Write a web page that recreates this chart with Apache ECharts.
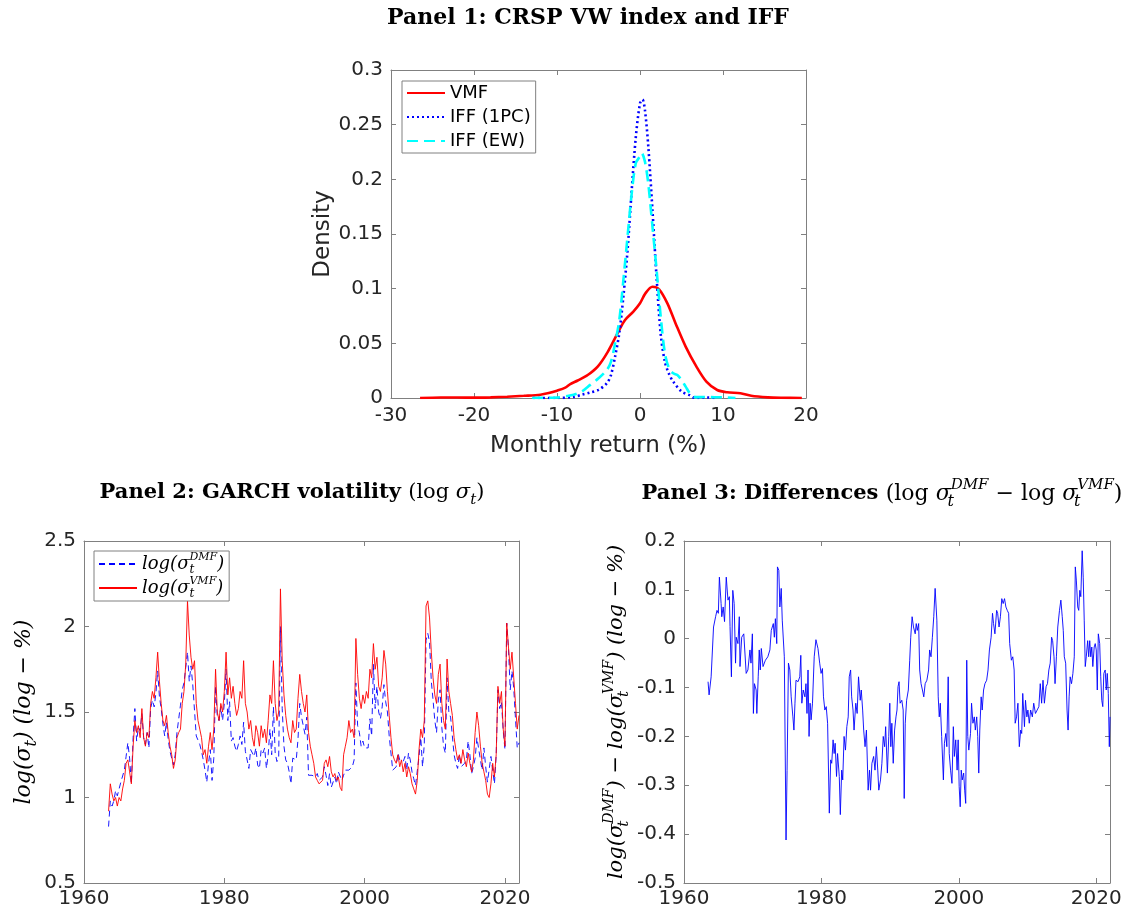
<!DOCTYPE html>
<html><head><meta charset="utf-8">
<script src="https://cdn.jsdelivr.net/npm/echarts@6/dist/echarts.min.js"></script>
<style>html,body{margin:0;padding:0;background:#fff}#c{width:1127px;height:916px}</style>
</head><body><div id="c"></div>
<script>
// ---------- Panel 1: kernel densities (x = monthly return %, y = density) ----------
const vmfDensity = [[-26.5,0],[-24,0.0005],[-22,0.0004],[-20,0.0003],[-18,0.0006],[-16,0.0012],[-14,0.002],[-12,0.003],[-11,0.0045],[-10,0.0067],[-9,0.0095],[-8.4,0.0128],[-7.5,0.016],[-6.3,0.021],[-5.1,0.0287],[-3.9,0.042],[-2.6,0.0607],[-1.8,0.0713],[-0.8,0.079],[0,0.0866],[0.65,0.0957],[1.5,0.1018],[2.3,0.0994],[3.3,0.0866],[4.3,0.068],[5.5,0.047],[6.8,0.0287],[8,0.015],[9.3,0.0073],[10.5,0.0052],[12.1,0.0043],[13.4,0.002],[15.4,0.0006],[17,0.0002],[19.5,0]];
const iff1pcDensity = [[-12.9,0],[-10,0],[-8,0.001],[-7,0.003],[-6,0.005],[-5,0.0075],[-4,0.0134],[-3.5,0.021],[-3,0.038],[-2.5,0.059],[-2,0.093],[-1.5,0.135],[-1,0.19],[-0.5,0.239],[0,0.2695],[0.3,0.273],[0.6,0.263],[1,0.23],[1.5,0.172],[2,0.11],[2.5,0.058],[3,0.033],[3.5,0.022],[4,0.015],[5,0.006],[6,0.0025],[6.5,0.0003],[7,0],[8,0.0005],[9,0]];
const iffEwDensity = [[-13,0],[-10,0.0005],[-8,0.003],[-7,0.006],[-6,0.012],[-5,0.018],[-4,0.0256],[-3.5,0.033],[-3,0.05],[-2.5,0.071],[-2,0.108],[-1.5,0.1476],[-1,0.187],[-0.5,0.215],[0,0.221],[0.2,0.224],[0.6,0.216],[1,0.196],[1.5,0.157],[2,0.117],[2.5,0.074],[3,0.041],[3.5,0.027],[4,0.0226],[4.5,0.021],[5,0.0165],[5.5,0.0104],[6,0.0043],[6.5,0.0012],[7,0.0008],[8,0.001],[9,0.0007],[10,0.0007],[11.5,0]];

// ---------- Panel 2: GARCH log volatility (year, value) ----------
const vmfVol = [[1963.5,0.92],[1963.75,1.08],[1964,1.02],[1964.25,0.98],[1964.5,1.0],[1964.75,0.95],[1965,1.0],[1965.25,0.98],[1965.5,1.05],[1965.75,1.1],
[1966,1.2],[1966.25,1.22],[1966.5,1.15],[1966.75,1.08],[1967,1.3],[1967.25,1.45],[1967.5,1.38],[1967.75,1.42],[1968,1.35],[1968.25,1.52],
[1968.5,1.35],[1968.75,1.3],[1969,1.38],[1969.25,1.35],[1969.5,1.55],[1969.75,1.62],[1970,1.58],[1970.25,1.7],[1970.5,1.85],[1970.75,1.68],
[1971,1.55],[1971.25,1.45],[1971.5,1.42],[1971.75,1.48],[1972,1.38],[1972.25,1.3],[1972.5,1.25],[1972.75,1.17],[1973,1.22],[1973.25,1.35],
[1973.5,1.38],[1973.75,1.4],[1974,1.55],[1974.25,1.62],[1974.5,1.78],[1974.75,2.15],[1975,1.95],[1975.25,1.82],[1975.5,1.75],[1975.75,1.8],
[1976,1.55],[1976.25,1.45],[1976.5,1.4],[1976.75,1.35],[1977,1.25],[1977.25,1.28],[1977.5,1.2],[1977.75,1.3],[1978,1.38],[1978.25,1.28],
[1978.5,1.4],[1978.75,1.75],[1979,1.5],[1979.25,1.45],[1979.5,1.55],[1979.75,1.5],[1980,1.62],[1980.25,1.85],[1980.5,1.6],[1980.75,1.7],
[1981,1.58],[1981.25,1.65],[1981.5,1.55],[1981.75,1.48],[1982,1.52],[1982.25,1.62],[1982.5,1.58],[1982.75,1.8],[1983,1.55],[1983.25,1.5],
[1983.5,1.4],[1983.75,1.45],[1984,1.35],[1984.25,1.3],[1984.5,1.42],[1984.75,1.38],[1985,1.3],[1985.25,1.42],[1985.5,1.35],[1985.75,1.4],
[1986,1.32],[1986.25,1.45],[1986.5,1.6],[1986.75,1.55],[1987,1.8],[1987.25,1.55],[1987.5,1.45],[1987.75,1.5],[1988,2.22],[1988.25,1.8],
[1988.5,1.6],[1988.75,1.48],[1989,1.4],[1989.25,1.35],[1989.5,1.32],[1989.75,1.45],[1990,1.38],[1990.25,1.4],[1990.5,1.58],[1990.75,1.72],
[1991,1.62],[1991.25,1.55],[1991.5,1.5],[1991.75,1.6],[1992,1.38],[1992.25,1.3],[1992.5,1.25],[1992.75,1.2],[1993,1.12],[1993.25,1.1],
[1993.5,1.08],[1993.75,1.07],[1994,1.1],[1994.25,1.2],[1994.5,1.22],[1994.75,1.18],[1995,1.24],[1995.25,1.15],[1995.5,1.12],[1995.75,1.14],
[1996,1.1],[1996.25,1.12],[1996.5,1.06],[1996.75,1.04],[1997,1.25],[1997.25,1.3],[1997.5,1.35],[1997.75,1.45],[1998,1.38],[1998.25,1.4],
[1998.5,1.35],[1998.75,1.93],[1999,1.72],[1999.25,1.58],[1999.5,1.52],[1999.75,1.6],[2000,1.55],[2000.25,1.62],[2000.5,1.58],[2000.75,1.75],
[2001,1.7],[2001.25,1.9],[2001.5,1.75],[2001.75,1.82],[2002,1.65],[2002.25,1.62],[2002.5,1.7],[2002.75,1.86],[2003,1.78],[2003.25,1.62],
[2003.5,1.48],[2003.75,1.35],[2004,1.25],[2004.25,1.22],[2004.5,1.2],[2004.75,1.25],[2005,1.18],[2005.25,1.22],[2005.5,1.15],[2005.75,1.2],
[2006,1.12],[2006.25,1.18],[2006.5,1.14],[2006.75,1.08],[2007,1.05],[2007.25,1.02],[2007.5,1.1],[2007.75,1.28],[2008,1.4],[2008.25,1.35],
[2008.5,1.45],[2008.75,2.12],[2009,2.15],[2009.25,2.05],[2009.5,1.85],[2009.75,1.7],[2010,1.6],[2010.25,1.55],[2010.5,1.72],[2010.75,1.78],
[2011,1.55],[2011.25,1.45],[2011.5,1.4],[2011.75,1.81],[2012,1.62],[2012.25,1.55],[2012.5,1.48],[2012.75,1.35],[2013,1.28],[2013.25,1.22],
[2013.5,1.25],[2013.75,1.2],[2014,1.28],[2014.25,1.22],[2014.5,1.18],[2014.75,1.26],[2015,1.2],[2015.25,1.15],[2015.5,1.22],[2015.75,1.38],
[2016,1.5],[2016.25,1.42],[2016.5,1.3],[2016.75,1.2],[2017,1.15],[2017.25,1.1],[2017.5,1.02],[2017.75,1.0],[2018,1.08],[2018.25,1.2],
[2018.5,1.12],[2018.75,1.25],[2019,1.65],[2019.25,1.55],[2019.5,1.62],[2019.75,1.4],[2020,1.3],[2020.25,2.02],[2020.5,1.88],[2020.75,1.75],
[2021,1.85],[2021.25,1.7],[2021.5,1.55],[2021.75,1.4],[2022,1.48]];

const dmfVol = [[1963.5,0.83],[1963.75,0.98],[1964,0.95],[1964.25,0.98],[1964.5,1.04],[1964.75,1.01],[1965,1.05],[1965.25,1.09],[1965.5,1.1],[1965.75,1.16],
[1966,1.24],[1966.25,1.32],[1966.5,1.23],[1966.75,1.08],[1967,1.35],[1967.25,1.52],[1967.5,1.33],[1967.75,1.41],[1968,1.39],[1968.25,1.49],
[1968.5,1.35],[1968.75,1.31],[1969,1.38],[1969.25,1.29],[1969.5,1.52],[1969.75,1.57],[1970,1.53],[1970.25,1.61],[1970.5,1.74],[1970.75,1.59],
[1971,1.52],[1971.25,1.43],[1971.5,1.36],[1971.75,1.44],[1972,1.34],[1972.25,1.27],[1972.5,1.23],[1972.75,1.19],[1973,1.25],[1973.25,1.38],
[1973.5,1.37],[1973.75,1.54],[1974,1.63],[1974.25,1.67],[1974.5,1.76],[1974.75,1.85],[1975,1.68],[1975.25,1.77],[1975.5,1.66],[1975.75,1.65],
[1976,1.36],[1976.25,1.35],[1976.5,1.31],[1976.75,1.27],[1977,1.22],[1977.25,1.16],[1977.5,1.09],[1977.75,1.2],[1978,1.28],[1978.25,1.1],
[1978.5,1.23],[1978.75,1.65],[1979,1.47],[1979.25,1.45],[1979.5,1.53],[1979.75,1.45],[1980,1.55],[1980.25,1.75],[1980.5,1.45],[1980.75,1.56],
[1981,1.33],[1981.25,1.35],[1981.5,1.3],[1981.75,1.27],[1982,1.31],[1982.25,1.36],[1982.5,1.31],[1982.75,1.44],[1983,1.27],[1983.25,1.28],
[1983.5,1.17],[1983.75,1.28],[1984,1.26],[1984.25,1.24],[1984.5,1.29],[1984.75,1.19],[1985,1.17],[1985.25,1.28],[1985.5,1.26],[1985.75,1.29],
[1986,1.17],[1986.25,1.25],[1986.5,1.4],[1986.75,1.25],[1987,1.53],[1987.25,1.26],[1987.5,1.21],[1987.75,1.24],[1988,2.0],[1988.25,1.52],
[1988.5,1.3],[1988.75,1.22],[1989,1.2],[1989.25,1.15],[1989.5,1.08],[1989.75,1.23],[1990,1.22],[1990.25,1.22],[1990.5,1.34],[1990.75,1.55],
[1991,1.47],[1991.25,1.46],[1991.5,1.37],[1991.75,1.47],[1992,1.13],[1992.25,1.14],[1992.5,1.13],[1992.75,1.13],[1993,1.12],[1993.25,1.14],
[1993.5,1.1],[1993.75,1.1],[1994,1.12],[1994.25,1.18],[1994.5,1.13],[1994.75,1.07],[1995,1.14],[1995.25,1.06],[1995.5,1.05],[1995.75,1.12],
[1996,1.08],[1996.25,1.15],[1996.5,1.15],[1996.75,1.1],[1997,1.13],[1997.25,1.16],[1997.5,1.15],[1997.75,1.16],[1998,1.17],[1998.25,1.18],
[1998.5,1.22],[1998.75,1.67],[1999,1.42],[1999.25,1.38],[1999.5,1.3],[1999.75,1.33],[2000,1.29],[2000.25,1.3],[2000.5,1.29],[2000.75,1.46],
[2001,1.36],[2001.25,1.78],[2001.5,1.52],[2001.75,1.65],[2002,1.5],[2002.25,1.46],[2002.5,1.53],[2002.75,1.66],[2003,1.56],[2003.25,1.5],
[2003.5,1.36],[2003.75,1.26],[2004,1.16],[2004.25,1.16],[2004.5,1.18],[2004.75,1.26],[2005,1.22],[2005.25,1.23],[2005.5,1.21],[2005.75,1.24],
[2006,1.16],[2006.25,1.26],[2006.5,1.22],[2006.75,1.15],[2007,1.11],[2007.25,1.07],[2007.5,1.08],[2007.75,1.24],[2008,1.35],[2008.25,1.18],
[2008.5,1.31],[2008.75,1.92],[2009,1.96],[2009.25,1.91],[2009.5,1.68],[2009.75,1.57],[2010,1.45],[2010.25,1.38],[2010.5,1.57],[2010.75,1.63],
[2011,1.41],[2011.25,1.3],[2011.5,1.26],[2011.75,1.7],[2012,1.5],[2012.25,1.47],[2012.5,1.36],[2012.75,1.25],[2013,1.2],[2013.25,1.17],
[2013.5,1.25],[2013.75,1.18],[2014,1.19],[2014.25,1.2],[2014.5,1.22],[2014.75,1.33],[2015,1.25],[2015.25,1.14],[2015.5,1.18],[2015.75,1.23],
[2016,1.35],[2016.25,1.34],[2016.5,1.22],[2016.75,1.16],[2017,1.29],[2017.25,1.18],[2017.5,1.09],[2017.75,1.09],[2018,1.24],[2018.25,1.24],
[2018.5,1.08],[2018.75,1.25],[2019,1.63],[2019.25,1.52],[2019.5,1.56],[2019.75,1.39],[2020,1.28],[2020.25,2.02],[2020.5,1.87],[2020.75,1.63],
[2021,1.74],[2021.25,1.64],[2021.5,1.46],[2021.75,1.29],[2022,1.32]];

// ---------- Panel 3: differences log sigma DMF - log sigma VMF (year, value) ----------
const diffSeries = [[1963.5,-0.088],[1963.65,-0.115],[1963.95,-0.078],[1964.3,0.024],[1964.6,0.045],[1964.8,0.058],[1965.0,0.052],[1965.15,0.126],[1965.4,0.072],[1965.5,0.045],
[1965.7,0.065],[1965.9,0.035],[1966.15,0.126],[1966.4,0.079],[1966.6,0.086],[1966.7,0.025],[1966.9,-0.078],[1967.1,0.099],[1967.3,0.072],[1967.5,-0.05],
[1967.6,0.003],[1967.85,-0.01],[1968.05,0.045],[1968.15,-0.057],[1968.4,0.003],[1968.7,0.01],[1968.9,0.014],[1969.05,-0.071],[1969.3,-0.064],[1969.6,-0.023],
[1969.75,-0.05],[1969.95,0.01],[1970.1,-0.153],[1970.25,-0.092],[1970.5,-0.105],[1970.6,-0.153],[1970.8,-0.078],[1970.95,-0.023],[1971.1,-0.064],[1971.25,-0.02],
[1971.5,-0.057],[1971.85,-0.044],[1972.2,-0.037],[1972.5,-0.023],[1972.7,0.017],[1973.0,0.031],[1973.15,0.003],[1973.3,0.041],[1973.5,-0.01],[1973.6,0.147],
[1973.8,0.14],[1973.95,0.065],[1974.15,0.103],[1974.3,0.038],[1974.6,-0.037],[1974.85,-0.412],[1975.0,-0.27],[1975.2,-0.05],[1975.4,-0.064],[1975.6,-0.119],
[1975.85,-0.16],[1976.0,-0.187],[1976.15,-0.132],[1976.3,-0.085],[1976.6,-0.088],[1976.85,-0.078],[1977.0,-0.034],[1977.15,-0.132],[1977.35,-0.105],[1977.6,-0.119],
[1977.75,-0.092],[1977.9,-0.153],[1978.05,-0.064],[1978.2,-0.2],[1978.35,-0.132],[1978.5,-0.166],[1978.7,-0.132],[1978.95,-0.037],[1979.2,-0.002],[1979.5,-0.02],
[1979.75,-0.05],[1979.95,-0.071],[1980.15,-0.061],[1980.3,-0.119],[1980.5,-0.146],[1980.7,-0.139],[1980.9,-0.173],[1981.15,-0.357],[1981.35,-0.248],[1981.5,-0.255],
[1981.7,-0.207],[1981.85,-0.235],[1982.0,-0.214],[1982.2,-0.282],[1982.35,-0.235],[1982.6,-0.282],[1982.75,-0.36],[1982.95,-0.269],[1983.1,-0.289],[1983.3,-0.2],
[1983.5,-0.228],[1983.7,-0.18],[1983.9,-0.16],[1984.05,-0.078],[1984.25,-0.064],[1984.4,-0.119],[1984.6,-0.146],[1984.75,-0.187],[1985.0,-0.132],[1985.2,-0.153],
[1985.4,-0.078],[1985.65,-0.126],[1985.8,-0.105],[1986.0,-0.146],[1986.15,-0.187],[1986.35,-0.221],[1986.55,-0.187],[1986.8,-0.31],[1987.0,-0.269],[1987.15,-0.31],
[1987.35,-0.255],[1987.6,-0.241],[1987.8,-0.269],[1988.0,-0.221],[1988.2,-0.269],[1988.35,-0.31],[1988.6,-0.289],[1988.8,-0.255],[1989.0,-0.2],[1989.2,-0.221],
[1989.35,-0.18],[1989.6,-0.275],[1989.8,-0.2],[1989.95,-0.132],[1990.1,-0.221],[1990.25,-0.173],[1990.45,-0.255],[1990.65,-0.187],[1990.85,-0.16],[1991.0,-0.146],
[1991.15,-0.098],[1991.3,-0.088],[1991.45,-0.132],[1991.7,-0.126],[1991.9,-0.146],[1992.05,-0.327],[1992.2,-0.173],[1992.4,-0.126],[1992.65,-0.105],[1992.85,-0.044],
[1993.0,0.003],[1993.2,0.045],[1993.4,0.024],[1993.65,0.01],[1993.8,0.031],[1993.95,0.017],[1994.15,0.031],[1994.3,-0.064],[1994.5,-0.092],[1994.7,-0.105],
[1994.9,-0.119],[1995.1,-0.092],[1995.35,-0.085],[1995.6,-0.064],[1995.75,-0.023],[1995.95,-0.037],[1996.15,0.003],[1996.35,0.045],[1996.55,0.103],[1996.8,0.038],
[1997.0,-0.119],[1997.15,-0.16],[1997.3,-0.132],[1997.5,-0.2],[1997.75,-0.289],[1997.9,-0.214],[1998.1,-0.194],[1998.25,-0.221],[1998.45,-0.078],[1998.6,-0.235],
[1998.8,-0.269],[1999.0,-0.296],[1999.2,-0.18],[1999.35,-0.241],[1999.55,-0.207],[1999.75,-0.269],[1999.9,-0.207],[2000.05,-0.303],[2000.2,-0.344],[2000.35,-0.269],
[2000.5,-0.289],[2000.7,-0.275],[2000.85,-0.31],[2001.0,-0.337],[2001.15,-0.044],[2001.3,-0.2],[2001.45,-0.228],[2001.7,-0.194],[2001.85,-0.132],[2002.05,-0.173],
[2002.25,-0.16],[2002.4,-0.187],[2002.6,-0.16],[2002.75,-0.2],[2002.9,-0.275],[2003.05,-0.187],[2003.25,-0.119],[2003.4,-0.146],[2003.6,-0.105],[2003.8,-0.092],
[2004.05,-0.085],[2004.25,-0.064],[2004.45,-0.023],[2004.7,0.003],[2004.9,0.052],[2005.05,0.031],[2005.25,0.01],[2005.5,0.058],[2005.65,0.052],[2005.85,0.024],
[2006.05,0.045],[2006.25,0.082],[2006.45,0.072],[2006.65,0.082],[2006.85,0.065],[2007.05,0.058],[2007.25,0.052],[2007.4,-0.01],[2007.65,-0.044],[2007.85,-0.037],
[2008.05,-0.064],[2008.2,-0.173],[2008.4,-0.16],[2008.6,-0.132],[2008.8,-0.221],[2009.0,-0.187],[2009.15,-0.194],[2009.3,-0.112],[2009.55,-0.18],[2009.7,-0.126],
[2009.9,-0.16],[2010.05,-0.146],[2010.25,-0.173],[2010.45,-0.146],[2010.7,-0.16],[2010.9,-0.132],[2011.15,-0.153],[2011.4,-0.146],[2011.65,-0.139],[2011.85,-0.092],
[2012.05,-0.132],[2012.25,-0.085],[2012.45,-0.132],[2012.7,-0.098],[2012.9,-0.092],[2013.1,-0.064],[2013.3,-0.05],[2013.5,0.003],[2013.65,-0.004],[2013.85,-0.037],
[2014.0,-0.092],[2014.2,-0.037],[2014.4,0.024],[2014.65,0.058],[2014.85,0.079],[2015.05,0.045],[2015.2,0.017],[2015.35,-0.037],[2015.55,-0.05],[2015.75,-0.146],
[2015.9,-0.187],[2016.05,-0.119],[2016.2,-0.078],[2016.4,-0.092],[2016.6,-0.071],[2016.8,-0.037],[2016.95,0.147],[2017.1,0.12],[2017.3,0.065],[2017.45,0.058],
[2017.6,0.099],[2017.75,0.086],[2017.95,0.18],[2018.1,0.126],[2018.25,0.038],[2018.4,-0.057],[2018.55,-0.037],[2018.75,-0.004],[2018.9,-0.037],[2019.05,-0.004],
[2019.2,-0.037],[2019.35,-0.017],[2019.5,-0.057],[2019.7,-0.017],[2019.85,-0.01],[2020.0,-0.023],[2020.15,-0.105],[2020.3,0.01],[2020.5,-0.01],[2020.65,-0.078],
[2020.8,-0.126],[2020.95,-0.139],[2021.1,-0.071],[2021.3,-0.064],[2021.45,-0.105],[2021.6,-0.071],[2021.75,-0.112],[2021.9,-0.221],[2022.0,-0.16]];

const densityLegend = ['VMF', 'IFF (1PC)', 'IFF (EW)'];
const volLegend = ['DMF', 'VMF'];

// ---------- styling ----------
const SANS = 'DejaVu Sans', SERIF = 'DejaVu Serif';
const AX = '#808080', TX = '#262626';

function axisPair(kind, gi, min, max, interval, extra) {
  const base = {
    gridIndex: gi, type: 'value', min: min, max: max, interval: interval,
    axisLine: { show: true, onZero: false, lineStyle: { color: AX, width: 1 } },
    axisTick: { show: true, inside: true, length: 5, lineStyle: { color: AX } },
    splitLine: { show: false }
  };
  const lbl = { color: TX, fontSize: 20, fontFamily: SANS, margin: 8 };
  const main = Object.assign({}, base, { position: kind === 'x' ? 'bottom' : 'left' }, extra || {});
  main.axisLabel = Object.assign({}, lbl, (extra && extra.axisLabel) || {});
  const mirror = Object.assign({}, base, { position: kind === 'x' ? 'top' : 'right', axisLabel: { show: false } });
  return [main, mirror];
}

// rich-text styles for math: m = italic, r = roman, b = bold, sub/sb = subscript (sb has zero advance), sup = superscript
const mathRich = (size, boldSize, scriptSize) => {
  const lh = Math.round(size * 1.45);
  const ss = scriptSize || Math.round(size * 0.66);
  return {
    m:  { fontFamily: SERIF, fontStyle: 'italic', fontWeight: 'normal', fontSize: size, color: '#000', lineHeight: lh },
    r:  { fontFamily: SERIF, fontStyle: 'normal', fontWeight: 'normal', fontSize: size, color: '#000', lineHeight: lh },
    b:  { fontFamily: SERIF, fontStyle: 'normal', fontWeight: 'bold', fontSize: boldSize || size, color: '#000', lineHeight: lh },
    sub:{ fontFamily: SERIF, fontStyle: 'italic', fontWeight: 'normal', fontSize: Math.round(ss * 1.05), color: '#000', verticalAlign: 'bottom' },
    sb: { fontFamily: SERIF, fontStyle: 'italic', fontWeight: 'normal', fontSize: Math.round(ss * 1.05), color: '#000', verticalAlign: 'bottom', width: 0 },
    sup:{ fontFamily: SERIF, fontStyle: 'italic', fontWeight: 'normal', fontSize: ss, color: '#000', verticalAlign: 'top' }
  };
};

const yearFmt = v => (Math.abs(v % 20) < 1e-9 ? String(v) : '');

const x1 = axisPair('x', 0, -30, 20, 10, { name: 'Monthly return (%)', nameLocation: 'middle', nameGap: 37,
  nameTextStyle: { fontSize: 23, color: TX, fontFamily: SANS } });
const y1 = axisPair('y', 0, 0, 0.3, 0.05, { name: 'Density', nameLocation: 'middle', nameGap: 56,
  nameTextStyle: { fontSize: 23, color: TX, fontFamily: SANS } });
const x2 = axisPair('x', 1, 1960, 2022, 20, { axisLabel: { formatter: yearFmt, margin: 6 } });
const y2 = axisPair('y', 1, 0.5, 2.5, 0.5, {
  name: '{m|log(σ}{sub|t}{m|) (log }{r|−}{m| %)}', nameLocation: 'middle', nameGap: 40,
  nameTextStyle: { rich: mathRich(22) } });
const x3 = axisPair('x', 2, 1960, 2022, 20, { axisLabel: { formatter: yearFmt, margin: 6 } });
const y3 = axisPair('y', 2, -0.5, 0.2, 0.1, {
  name: '{m|log(σ}{sb|t}{sup|DMF}{m|) }{r|−}{m| log(σ}{sb|t}{sup|VMF}{m|) (log }{r|−}{m| %)}', nameLocation: 'middle', nameGap: 52,
  nameTextStyle: { rich: mathRich(21) } });

const option = {
  animation: false,
  backgroundColor: '#ffffff',
  title: [
    { text: 'Panel 1: CRSP VW index and IFF', left: 588, top: 7, textAlign: 'center', padding: 0,
      textStyle: { fontFamily: SERIF, fontWeight: 'bold', fontSize: 22, color: '#000' } },
    { text: '{b|Panel 2: GARCH volatility }{r|(log }{m|σ}{sub|t}{r|)}', left: 292, top: 478, textAlign: 'center', padding: 0,
      textStyle: { rich: mathRich(21, 21) } },
    { text: '{b|Panel 3: Differences }{r|(log }{m|σ}{sb|t}{sup|DMF}{r| − log }{m|σ}{sb|t}{sup|VMF}{r|)}', left: 882, top: 478, textAlign: 'center', padding: 0,
      textStyle: { rich: mathRich(22, 21, 15) } }
  ],
  grid: [
    { left: 391, top: 70, width: 415, height: 328 },
    { left: 84, top: 541, width: 435, height: 342 },
    { left: 684, top: 541, width: 426, height: 342 }
  ],
  xAxis: [x1[0], x1[1], x2[0], x2[1], x3[0], x3[1]],
  yAxis: [y1[0], y1[1], y2[0], y2[1], y3[0], y3[1]],
  legend: [
    { data: densityLegend, orient: 'vertical', left: 402, top: 81, padding: [2, 5, 2, 4], itemGap: 4,
      itemWidth: 38, itemHeight: 14, borderColor: AX, borderWidth: 1, backgroundColor: '#fff',
      itemStyle: { opacity: 0 },
      textStyle: { fontFamily: SANS, fontSize: 18, color: '#000', lineHeight: 20 } },
    { data: volLegend, orient: 'vertical', left: 94, top: 551, padding: [1, 5, 1, 4], itemGap: 0,
      itemWidth: 38, itemHeight: 12, borderColor: AX, borderWidth: 1, backgroundColor: '#fff',
      itemStyle: { opacity: 0 },
      formatter: name => '{m|log(σ}{sb|t}{sup|' + name + '}{m|)}',
      textStyle: { rich: {
        m: { fontFamily: SERIF, fontStyle: 'italic', fontSize: 18, color: '#000', lineHeight: 24 },
        sb: { fontFamily: SERIF, fontStyle: 'italic', fontSize: 12, color: '#000', verticalAlign: 'bottom', width: 0 },
        sup: { fontFamily: SERIF, fontStyle: 'italic', fontSize: 11, color: '#000', verticalAlign: 'top' }
      } } }
  ],
  series: [
    { name: 'VMF', type: 'line', xAxisIndex: 0, yAxisIndex: 0, data: vmfDensity, symbol: 'none', smooth: 0.3,
      lineStyle: { color: '#ff0000', width: 2.6 }, itemStyle: { color: '#ff0000' }, z: 3 },
    { name: 'IFF (1PC)', type: 'line', xAxisIndex: 0, yAxisIndex: 0, data: iff1pcDensity, symbol: 'none', smooth: 0.3,
      lineStyle: { color: '#0000ff', width: 2.6, type: [2, 3] }, itemStyle: { color: '#0000ff' }, z: 4 },
    { name: 'IFF (EW)', type: 'line', xAxisIndex: 0, yAxisIndex: 0, data: iffEwDensity, symbol: 'none', smooth: 0.3,
      lineStyle: { color: '#00ffff', width: 2.6, type: [11, 6] }, itemStyle: { color: '#00ffff' }, z: 5 },
    { name: 'DMF', type: 'line', xAxisIndex: 2, yAxisIndex: 2, data: dmfVol, symbol: 'none',
      lineStyle: { color: '#0000ff', width: 0.9, type: [6, 4] }, itemStyle: { color: '#0000ff' } },
    { name: 'VMF', type: 'line', xAxisIndex: 2, yAxisIndex: 2, data: vmfVol, symbol: 'none',
      lineStyle: { color: '#ff0000', width: 0.9 }, itemStyle: { color: '#ff0000' } },
    { name: 'diff', type: 'line', xAxisIndex: 4, yAxisIndex: 4, data: diffSeries, symbol: 'none',
      lineStyle: { color: '#0000ff', width: 0.9 }, itemStyle: { color: '#0000ff' } }
  ]
};

const chart = echarts.init(document.getElementById('c'), null, { renderer: 'canvas' });
chart.setOption(option);
</script>
</body></html>
